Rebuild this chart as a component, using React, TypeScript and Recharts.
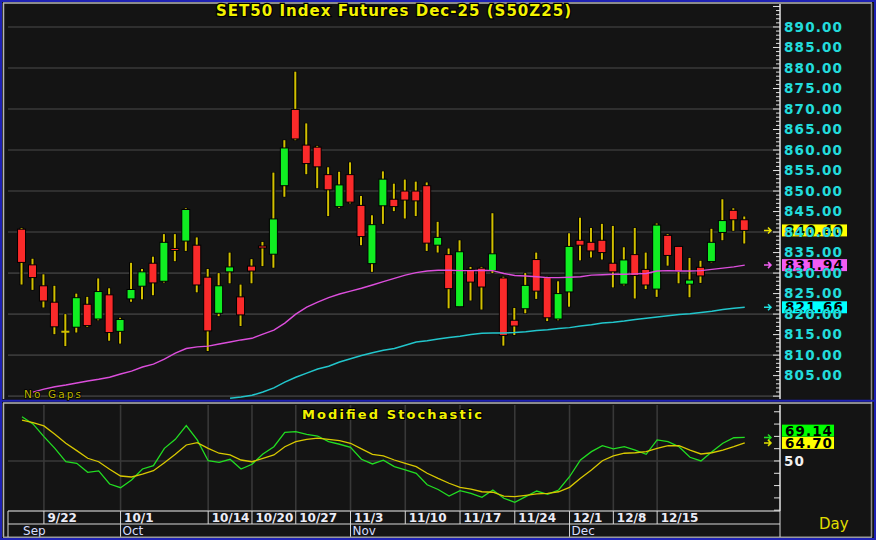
import React from 'react';
import { ComposedChart, Bar, Line, XAxis, YAxis, ReferenceLine } from 'recharts';

// ---- data ----
const opens = [840.7, 832.0, 826.9, 822.9, 815.7, 816.8, 822.4, 818.8, 824.7, 815.8,
  823.7, 826.8, 832.4, 828.0, 836.0, 837.8, 836.8, 829.0, 820.2, 830.3,
  824.2, 831.7, 836.6, 834.6, 851.3, 869.9, 861.2, 860.7, 854.0, 846.2,
  854.0, 846.5, 832.3, 846.4, 848.0, 850.0, 850.0, 851.3, 836.8, 834.5,
  821.8, 830.9, 831.2, 830.6, 828.8, 818.5, 821.3, 833.3, 828.9, 818.8,
  825.4, 838.0, 837.5, 838.0, 832.4, 827.3, 834.5, 830.9, 826.1, 839.2,
  836.5, 827.3, 831.4, 832.8, 839.9, 845.3, 843.0];
const highs = [841.0, 833.5, 829.7, 826.9, 820.0, 825.0, 824.2, 828.7, 826.3, 819.1,
  832.5, 831.0, 834.0, 839.5, 839.5, 845.8, 838.7, 831.0, 830.0, 835.0,
  827.2, 833.4, 837.6, 854.5, 862.4, 879.1, 866.5, 861.0, 855.8, 854.7,
  857.0, 848.8, 844.1, 854.8, 851.8, 852.8, 852.3, 852.1, 842.5, 836.0,
  838.0, 831.5, 831.5, 844.6, 829.1, 821.5, 830.0, 835.0, 829.1, 828.0,
  839.7, 843.5, 841.0, 842.0, 841.5, 836.3, 841.0, 835.0, 842.1, 839.5,
  836.5, 833.7, 833.0, 840.8, 848.0, 845.8, 843.8];
const lows = [827.2, 825.9, 821.6, 815.1, 812.2, 815.5, 816.9, 818.5, 813.5, 812.8,
  823.0, 823.6, 824.6, 827.7, 832.9, 835.4, 825.3, 811.0, 819.5, 827.5,
  817.1, 827.5, 831.7, 831.3, 848.6, 862.4, 854.1, 850.7, 843.9, 845.9,
  847.0, 836.8, 830.3, 842.0, 845.1, 843.3, 843.9, 835.4, 835.0, 821.4,
  821.8, 823.3, 821.1, 830.0, 812.3, 814.9, 820.2, 823.7, 818.3, 818.5,
  821.8, 833.1, 833.8, 833.3, 826.5, 827.0, 823.8, 826.1, 824.2, 831.8,
  827.5, 824.1, 827.6, 832.6, 838.0, 840.3, 837.2];
const closes = [832.6, 828.9, 823.2, 816.9, 815.7, 824.0, 817.2, 825.5, 815.5, 818.7,
  826.0, 830.3, 827.6, 837.5, 835.8, 845.5, 827.1, 815.9, 826.9, 831.5,
  819.8, 830.5, 836.3, 843.2, 860.5, 862.7, 856.7, 855.9, 850.3, 851.5,
  847.3, 838.9, 841.8, 852.9, 846.2, 847.8, 847.6, 837.3, 838.7, 826.2,
  835.2, 827.8, 826.6, 834.7, 814.8, 817.1, 827.0, 825.6, 819.1, 825.0,
  836.5, 836.8, 835.4, 835.0, 830.3, 833.2, 829.4, 827.1, 841.7, 834.3,
  830.4, 828.3, 829.3, 837.5, 842.8, 843.0, 840.4];
const maFast = [null, 800.97, 801.7, 802.3, 802.7, 803.2, 803.7, 804.1, 804.6, 805.4,
  806.1, 807.1, 807.8, 809.0, 810.5, 811.6, 812.0, 812.2, 812.7, 813.2,
  813.7, 814.1, 815.1, 816.1, 817.8, 820.0, 821.7, 822.9, 824.0, 824.9,
  825.6, 826.3, 827.1, 827.9, 828.7, 829.5, 830.1, 830.5, 830.7, 830.7,
  830.6, 830.6, 830.7, 830.6, 829.9, 829.4, 829.3, 829.1, 828.9, 828.9,
  829.0, 829.1, 829.5, 829.6, 829.7, 829.7, 829.8, 829.9, 830.5, 830.6,
  830.5, 830.5, 830.6, 830.9, 831.2, 831.5, 831.94];
const maSlow = [null, null, null, null, null, null, null, null, null, null,
  null, null, null, null, null, null, null, null, null, 799.5,
  799.8, 800.2, 801.0, 802.0, 803.4, 804.6, 805.6, 806.6, 807.3, 808.3,
  809.1, 809.9, 810.6, 811.2, 811.6, 812.4, 813.2, 813.5, 813.9, 814.3,
  814.6, 815.0, 815.3, 815.4, 815.4, 815.5, 815.7, 816.0, 816.2, 816.5,
  816.7, 817.1, 817.4, 817.8, 818.0, 818.3, 818.7, 819.0, 819.3, 819.6,
  819.9, 820.1, 820.4, 820.7, 821.1, 821.4, 821.66];
const stochK = [86.0, 80.1, 69.8, 60.3, 49.4, 48.1, 40.8, 41.9, 31.3, 28.3,
  34.6, 43.5, 46.2, 60.3, 67.6, 78.7, 67.1, 50.2, 48.9, 51.4,
  43.5, 47.3, 55.7, 61.6, 73.3, 73.8, 71.7, 70.3, 65.7, 63.6,
  61.1, 51.4, 47.6, 50.6, 45.4, 42.7, 40.0, 30.7, 26.8, 21.5,
  25.9, 23.7, 20.5, 26.4, 19.7, 16.4, 21.0, 25.6, 22.9, 26.4,
  37.2, 50.8, 57.6, 62.4, 59.8, 61.6, 58.9, 55.4, 67.1, 65.7,
  61.6, 53.0, 50.0, 57.6, 64.4, 68.9, 69.14];
const stochD = [83.3, 81.1, 78.5, 71.7, 64.4, 58.4, 52.2, 49.4, 43.3, 37.8,
  37.0, 39.4, 42.1, 48.6, 55.4, 63.0, 64.9, 60.3, 56.3, 54.9,
  50.8, 49.4, 52.2, 54.9, 61.6, 65.7, 67.6, 68.5, 67.6, 66.5,
  64.4, 59.8, 55.4, 54.1, 50.8, 48.1, 45.4, 40.0, 35.8, 31.9,
  28.6, 27.2, 25.0, 24.6, 21.5, 21.0, 22.1, 23.2, 23.7, 25.0,
  28.6, 35.9, 42.7, 50.2, 54.1, 56.3, 56.7, 57.6, 60.3, 62.4,
  62.4, 58.9, 55.7, 56.7, 58.9, 61.6, 64.70];

const dateTicks = [3, 10, 18, 22, 26, 31, 36, 41, 46, 51, 55, 59];
const dateLabels = ['9/22', '10/1', '10/14', '10/20', '10/27', '11/3', '11/10', '11/17', '11/24', '12/1', '12/8', '12/15'];
const monthTicks = [1, 10, 31, 51];
const monthLabels = ['Sep', 'Oct', 'Nov', 'Dec'];
const priceGrid = [800, 810, 820, 830, 840, 850, 860, 870, 880, 890];
const priceLabels = [805, 810, 815, 820, 825, 830, 835, 840, 845, 850, 855, 860, 865, 870, 875, 880, 885, 890];
const stochTicks = [10, 20, 30, 40, 50, 60, 70, 80, 90];
const stochGrid = [50];
const stochLabels = [50];

// ---- style / layout ----
const BG = '#141414';
const GRID = '#383838';
const AXIS = '#e4e4e4';
const LABEL = '#24dcdc';
const UP = '#10ee22';
const DOWN = '#fa2a2a';
const WICK = '#d2c000';
const MA1 = '#dc4edc';
const MA2 = '#22c6cc';
const KCOL = '#22dd22';
const DCOL = '#d8c800';
const FONT = '"DejaVu Sans", Verdana, sans-serif';

const X_DOMAIN: [number, number] = [-0.28, 70.22];
const P_DOMAIN: [number, number] = [799.3, 895.6];
const S_DOMAIN: [number, number] = [9.35, 95.5];

const CHART_W = 876;
const MAIN_H = 400;
const STOCH_H = 140;
const RIGHT_AXIS_W = 90;
const DATE_ROW_H = 13;
const MAIN_MARGIN = { top: 4, right: 6, bottom: 1, left: 8 };
const STOCH_MARGIN = { top: 5, right: 6, bottom: 3, left: 8 };
const PLOT_W = CHART_W - MAIN_MARGIN.left - MAIN_MARGIN.right - RIGHT_AXIS_W;
const MAIN_PLOT_H = MAIN_H - MAIN_MARGIN.top - MAIN_MARGIN.bottom;
const STOCH_PLOT_H = STOCH_H - STOCH_MARGIN.top - STOCH_MARGIN.bottom - 2 * DATE_ROW_H;

const priceMinor: number[] = [];
for (let v = 800; v <= 895; v++) priceMinor.push(v);

const rows = opens.map((o, i) => ({
  n: i + 1, o, h: highs[i], l: lows[i], c: closes[i], ma1: maFast[i], ma2: maSlow[i],
}));
const stochRows = stochK.map((k, i) => ({ n: i + 1, k, d: stochD[i] }));

const Candle = (props: any) => {
  const { x, y, width, height } = props;
  const p = props.payload || props;
  if (x == null || y == null || !p || p.h == null) return null;
  const top = Math.min(y, y + height);
  const bot = Math.max(y, y + height);
  const span = p.h - p.l || 1;
  const pv = (v: number) => top + ((p.h - v) / span) * (bot - top);
  const cx = x + width / 2;
  const flat = p.c === p.o;
  const up = p.c > p.o;
  const bt = pv(Math.max(p.o, p.c));
  const bb = pv(Math.min(p.o, p.c));
  const color = flat ? WICK : up ? UP : DOWN;
  const bh = Math.max(bb - bt, 2);
  return (
    <g>
      <rect x={cx - 2} y={top - 0.5} width={4} height={bot - top + 1} fill="#000" />
      <rect x={cx - 1} y={top} width={2} height={bot - top} fill={WICK} />
      {flat ? (
        <rect x={x} y={bt - 1} width={width} height={2} fill={WICK} />
      ) : (
        <rect x={x} y={bt} width={width} height={bh} fill={color} stroke="#000" strokeWidth={1} />
      )}
    </g>
  );
};

// grid lines drawn from axis ticks (one layer under the series)
const HGridTick = (p: any) => (
  <line x1={p.x - p.span} x2={p.x} y1={p.y} y2={p.y} stroke={GRID} strokeWidth={1.6} />
);
const VGridTick = (p: any) => (
  <line x1={p.x} x2={p.x} y1={p.y - p.span} y2={p.y} stroke={GRID} strokeWidth={1.6} />
);

const PriceTick = (p: any) => {
  const v = p.payload.value;
  const major = v % 5 === 0;
  return (
    <g>
      <line x1={p.x - (major ? 7 : 4)} x2={p.x} y1={p.y} y2={p.y} stroke={AXIS} strokeWidth={1} />
      {priceLabels.includes(v) && (
        <text x={p.x + 4} y={p.y} dy="0.36em" fill={LABEL} stroke="#062828" strokeWidth={0.6} paintOrder="stroke"
          fontFamily={FONT} fontWeight="bold" fontSize={13.5}
          textLength={58} lengthAdjust="spacing">{v.toFixed(2)}</text>
      )}
    </g>
  );
};

const LeftPriceTick = (p: any) => {
  const v = p.payload.value;
  const major = v % 5 === 0;
  return <line x1={p.x} x2={p.x + (major ? 7 : 4)} y1={p.y} y2={p.y} stroke={AXIS} strokeWidth={1} />;
};

const StochTick = (p: any) => {
  const v = p.payload.value;
  return (
    <g>
      <line x1={p.x - 6} x2={p.x} y1={p.y} y2={p.y} stroke={AXIS} strokeWidth={1} />
      {stochLabels.includes(v) && (
        <text x={p.x + 4} y={p.y} dy="0.36em" fill="#f0f0f0" fontFamily={FONT} fontWeight="bold" fontSize={13.5}
          textLength={20} lengthAdjust="spacing">{v}</text>
      )}
    </g>
  );
};

const LeftStochTick = (p: any) => (
  <line x1={p.x} x2={p.x + 6} y1={p.y} y2={p.y} stroke={AXIS} strokeWidth={1} />
);

const DateTick = (p: any) => {
  const idx = dateTicks.indexOf(p.payload.value);
  return (
    <g>
      <line x1={p.x} x2={p.x} y1={p.y} y2={p.y + DATE_ROW_H} stroke="#d8d8d8" strokeWidth={1} />
      <text x={p.x + 3.5} y={p.y + 11} fill="#ececf6" fontFamily={FONT} fontWeight="bold" fontSize={12}>
        {dateLabels[idx]}
      </text>
    </g>
  );
};

const MonthTick = (p: any) => {
  const idx = monthTicks.indexOf(p.payload.value);
  return (
    <g>
      {idx > 0 && <line x1={p.x} x2={p.x} y1={p.y} y2={p.y + DATE_ROW_H} stroke="#d8d8d8" strokeWidth={1} />}
      <text x={p.x + (idx > 0 ? 2 : 1)} y={p.y + 11} fill="#d4ddff" fontFamily={FONT} fontSize={12}>
        {monthLabels[idx]}
      </text>
    </g>
  );
};

const flag = (text: string, bg: string, arrow: string, boxW: number, textW: number, dy = 0) => (props: any) => {
  const vb = props.viewBox || {};
  if (vb.x == null) return null;
  const right = vb.x + vb.width;
  const yc = vb.y;
  const by = yc + dy;
  return (
    <g>
      <path d={`M${right - 16},${yc} L${right - 9},${yc} M${right - 12},${yc - 3} L${right - 9},${yc} L${right - 12},${yc + 3}`}
        stroke={arrow} strokeWidth={1.5} fill="none" />
      <rect x={right + 2} y={by - 6} width={boxW} height={12} fill={bg} />
      <text x={right + 5} y={by} dy="0.37em" fill="#000" fontFamily={FONT} fontWeight="bold" fontSize={13.5}
        textLength={textW} lengthAdjust="spacing">{text}</text>
    </g>
  );
};

const lastClose = closes[closes.length - 1];
const lastFast = maFast[maFast.length - 1] as number;
const lastSlow = maSlow[maSlow.length - 1] as number;
const lastK = stochK[stochK.length - 1];
const lastD = stochD[stochD.length - 1];

const MainGrid = () => (
  <ComposedChart width={CHART_W} height={MAIN_H} data={rows} margin={MAIN_MARGIN}>
    <XAxis xAxisId="x" type="number" dataKey="n" domain={X_DOMAIN} allowDataOverflow ticks={dateTicks} interval={0}
      height={0} tickSize={0} tickMargin={0} tick={<VGridTick span={MAIN_PLOT_H} />} axisLine={false} tickLine={false} />
    <YAxis yAxisId="r" orientation="right" type="number" domain={P_DOMAIN} allowDataOverflow ticks={priceGrid}
      interval={0} width={RIGHT_AXIS_W} tickSize={0} tickMargin={0} tick={<HGridTick span={PLOT_W} />}
      axisLine={false} tickLine={false} />
  </ComposedChart>
);

const MainChart = () => (
  <ComposedChart width={CHART_W} height={MAIN_H} data={rows} margin={MAIN_MARGIN}>
    <XAxis xAxisId="x" type="number" dataKey="n" domain={X_DOMAIN} allowDataOverflow ticks={dateTicks}
      height={0} tick={false} axisLine={false} tickLine={false} />
    <YAxis yAxisId="r" orientation="right" type="number" domain={P_DOMAIN} allowDataOverflow ticks={priceMinor}
      interval={0} width={RIGHT_AXIS_W} tickSize={0} tickMargin={0} tick={<PriceTick />} tickLine={false}
      axisLine={{ stroke: AXIS, strokeWidth: 1.5 }} />
    <YAxis yAxisId="l" orientation="left" mirror type="number" domain={P_DOMAIN} allowDataOverflow ticks={priceMinor}
      interval={0} width={0} tickSize={0} tickMargin={0} tick={<LeftPriceTick />} tickLine={false}
      axisLine={{ stroke: AXIS, strokeWidth: 1.5 }} />
    <Bar xAxisId="x" yAxisId="r" dataKey={(d: any) => [d.l, d.h]} barSize={8} shape={(p: any) => <Candle {...p} />}
      isAnimationActive={false} />
    <Line xAxisId="x" yAxisId="r" dataKey="ma1" stroke={MA1} strokeWidth={1.4} dot={false} isAnimationActive={false} />
    <Line xAxisId="x" yAxisId="r" dataKey="ma2" stroke={MA2} strokeWidth={1.5} dot={false} isAnimationActive={false} />
    <ReferenceLine xAxisId="x" yAxisId="r" y={lastClose} stroke="none"
      label={flag(lastClose.toFixed(2), '#ffff00', '#e8e000', 65, 58)} />
    <ReferenceLine xAxisId="x" yAxisId="r" y={lastFast} stroke="none"
      label={flag(lastFast.toFixed(2), '#f35cf3', '#f060f0', 65, 58)} />
    <ReferenceLine xAxisId="x" yAxisId="r" y={lastSlow} stroke="none"
      label={flag(lastSlow.toFixed(2), '#00ffff', '#20e0e0', 65, 58)} />
  </ComposedChart>
);

const StochGrid = () => (
  <ComposedChart width={CHART_W} height={STOCH_H} data={stochRows} margin={STOCH_MARGIN}>
    <XAxis xAxisId="d" type="number" dataKey="n" domain={X_DOMAIN} allowDataOverflow ticks={dateTicks} interval={0}
      height={2 * DATE_ROW_H} tickSize={0} tickMargin={0} tick={<VGridTick span={STOCH_PLOT_H} />}
      axisLine={false} tickLine={false} />
    <YAxis yAxisId="r" orientation="right" type="number" domain={S_DOMAIN} allowDataOverflow ticks={stochGrid}
      interval={0} width={RIGHT_AXIS_W} tickSize={0} tickMargin={0} tick={<HGridTick span={PLOT_W} />}
      axisLine={false} tickLine={false} />
  </ComposedChart>
);

const StochChart = () => (
  <ComposedChart width={CHART_W} height={STOCH_H} data={stochRows} margin={STOCH_MARGIN}>
    <XAxis xAxisId="d" type="number" dataKey="n" domain={X_DOMAIN} allowDataOverflow ticks={dateTicks} interval={0}
      height={DATE_ROW_H} tickSize={0} tickMargin={0} tick={<DateTick />} tickLine={false}
      axisLine={{ stroke: '#a8a8a8', strokeWidth: 1.5 }} />
    <XAxis xAxisId="m" type="number" dataKey="n" domain={X_DOMAIN} allowDataOverflow ticks={monthTicks} interval={0}
      height={DATE_ROW_H} tickSize={0} tickMargin={0} tick={<MonthTick />} tickLine={false}
      axisLine={{ stroke: '#d8d8d8', strokeWidth: 1 }} />
    <YAxis yAxisId="r" orientation="right" type="number" domain={S_DOMAIN} allowDataOverflow ticks={stochTicks}
      interval={0} width={RIGHT_AXIS_W} tickSize={0} tickMargin={0} tick={<StochTick />} tickLine={false}
      axisLine={{ stroke: AXIS, strokeWidth: 1.5 }} />
    <YAxis yAxisId="l" orientation="left" mirror type="number" domain={S_DOMAIN} allowDataOverflow ticks={stochTicks}
      interval={0} width={0} tickSize={0} tickMargin={0} tick={<LeftStochTick />} tickLine={false}
      axisLine={{ stroke: AXIS, strokeWidth: 1.5 }} />
    <Line xAxisId="d" yAxisId="r" dataKey="k" stroke={KCOL} strokeWidth={1.3} dot={false} isAnimationActive={false} />
    <Line xAxisId="d" yAxisId="r" dataKey="d" stroke={DCOL} strokeWidth={1.3} dot={false} isAnimationActive={false} />
    <ReferenceLine xAxisId="d" yAxisId="r" y={lastK} stroke="none"
      label={flag(lastK.toFixed(2), '#00ff00', '#22dd22', 52, 47, -6.8)} />
    <ReferenceLine xAxisId="d" yAxisId="r" y={lastD} stroke="none"
      label={flag(lastD.toFixed(2), '#ffff00', '#e0e000', 52, 47)} />
  </ComposedChart>
);

export default function App() {
  return (
    <div style={{ position: 'absolute', left: 0, top: 0, width: 876, height: 540, background: BG, overflow: 'hidden' }}>
      <div style={{ position: 'absolute', left: 0, top: 0 }}><MainGrid /></div>
      <div style={{ position: 'absolute', left: 0, top: 0 }}><MainChart /></div>
      <div style={{ position: 'absolute', left: 0, top: MAIN_H }}><StochGrid /></div>
      <div style={{ position: 'absolute', left: 0, top: MAIN_H }}><StochChart /></div>
      <svg width={876} height={540} style={{ position: 'absolute', left: 0, top: 0, pointerEvents: 'none' }}>
        {/* frame */}
        <rect x={1} y={1} width={874} height={538} fill="none" stroke="#1f22b4" strokeWidth={2} />
        <line x1={3.5} x2={3.5} y1={3} y2={399} stroke="#b4b4b4" strokeWidth={1.5} />
        <line x1={3} x2={872} y1={3} y2={3} stroke="#b4b4b4" strokeWidth={1.5} />
        <line x1={871.5} x2={871.5} y1={3} y2={537} stroke="#8a8a8a" strokeWidth={1.5} />
        <line x1={2} x2={874} y1={400.8} y2={400.8} stroke="#1f22b4" strokeWidth={2} />
        <line x1={3} x2={872} y1={403} y2={403} stroke="#b4b4b4" strokeWidth={1.5} />
        <line x1={3.5} x2={3.5} y1={403} y2={537} stroke="#b4b4b4" strokeWidth={1.5} />
        <line x1={3} x2={872} y1={537.2} y2={537.2} stroke="#9a9a9a" strokeWidth={1.5} />
        <line x1={8} x2={8} y1={511} y2={537} stroke="#d8d8d8" strokeWidth={1} />
        <line x1={780} x2={780} y1={511} y2={537} stroke="#d8d8d8" strokeWidth={1} />
        {/* titles */}
        <text x={393.5} y={16} textAnchor="middle" fill="#f2f200" stroke="#000" strokeWidth={2.4} paintOrder="stroke"
          fontFamily={FONT} fontWeight="bold" fontSize={15} textLength={355} lengthAdjust="spacing">
          SET50  Index  Futures  Dec-25  (S50Z25)
        </text>
        <text x={392} y={418.5} textAnchor="middle" fill="#f2f200" stroke="#000" strokeWidth={2} paintOrder="stroke"
          fontFamily={FONT} fontWeight="bold" fontSize={13} textLength={180} lengthAdjust="spacing">
          Modified  Stochastic
        </text>
        <text x={24} y={397.5} fill="#bdb400" stroke="#000" strokeWidth={1.5} paintOrder="stroke"
          fontFamily={FONT} fontSize={10.5} textLength={57} lengthAdjust="spacing">No Gaps</text>
        <text x={819} y={529} fill="#e0dc00" fontFamily={FONT} fontSize={15}>Day</text>
      </svg>
    </div>
  );
}
